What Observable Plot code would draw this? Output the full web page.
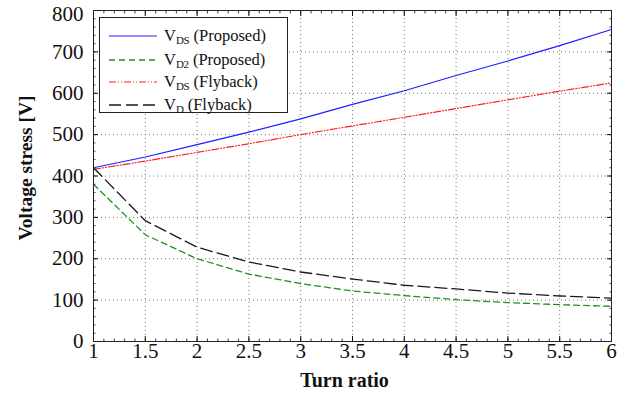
<!DOCTYPE html>
<html>
<head>
<meta charset="utf-8">
<script src="https://cdn.jsdelivr.net/npm/d3@7"></script>
<script src="https://cdn.jsdelivr.net/npm/@observablehq/plot@0.6"></script>
<style>
  html, body { margin: 0; padding: 0; background: #fff; }
  #wrap { position: relative; width: 624px; height: 396px; font-family: "Liberation Serif", "Times New Roman", serif; }
  #wrap svg text { font-family: "Liberation Serif", "Times New Roman", serif; }
  #legend { position: absolute; left: 99px; top: 17px; width: 189px; height: 96px; box-sizing: border-box;
    border: 1px solid #222; background: #fff; font-size: 16.5px; color: #111; font-family: "Liberation Serif", serif; }
  .row { position: absolute; left: 9px; height: 20px; display: flex; align-items: center; white-space: nowrap; }
  .row svg { width: 48px; height: 6px; margin-right: 7px; }
  .row span { font-family: "Liberation Serif", serif; }
  .row span sub { font-size: 11px; vertical-align: -3px; letter-spacing: -0.3px; }
</style>
</head>
<body>
<div id="wrap"></div>
<script>
const turnRatio   = [1, 1.5, 2, 2.5, 3, 3.5, 4, 4.5, 5, 5.5, 6];
const vdsProposed = [420, 446, 476, 506, 538, 573, 606, 643, 678, 715, 754];
const vd2Proposed = [380, 258, 200, 163, 140, 122, 111, 101, 94, 89, 85];
const vdsFlyback  = [416, 436, 457, 478, 500, 521, 542, 563, 584, 605, 625];
const vdFlyback   = [420, 292, 228, 192, 168, 151, 136, 127, 117, 110, 105];

const xTicks = [1, 1.5, 2, 2.5, 3, 3.5, 4, 4.5, 5, 5.5, 6];
const yTicks = [0, 100, 200, 300, 400, 500, 600, 700, 800];

const series = [
  {key: "vdsP", values: vdsProposed, color: "#1f1fff", dash: null, width: 1.2, sub: "DS", label: " (Proposed)"},
  {key: "vd2P", values: vd2Proposed, color: "#1f931f", dash: "6,4", width: 1.3, sub: "D2", label: " (Proposed)"},
  {key: "vdsF", values: vdsFlyback, color: "#ff1f1f", dash: "7,2,1,2,1,2", width: 1.2, sub: "DS", label: " (Flyback)"},
  {key: "vdF",  values: vdFlyback,  color: "#1a1a1a", dash: "12,5", width: 1.3, sub: "D", label: " (Flyback)"}
];

const tables = series.map(s => turnRatio.map((x, i) => ({x, y: s.values[i]})));

const minorX = d3.range(1, 6.0001, 0.1);
const minorY = d3.range(0, 800.0001, 20);

const gridStyle = {stroke: "#777", strokeOpacity: 1, strokeWidth: 1, strokeDasharray: "1,3"};
const serif = "Liberation Serif, serif";

const chart = Plot.plot({
  width: 624,
  height: 396,
  marginLeft: 93,
  marginRight: 13,
  marginTop: 10,
  marginBottom: 55,
  style: {fontFamily: serif, fontSize: "21px", color: "#111", background: "#fff"},
  x: {domain: [1, 6]},
  y: {domain: [0, 800]},
  marks: [
    Plot.gridX(xTicks.slice(1, -1), gridStyle),
    Plot.gridY(yTicks.slice(1, -1), gridStyle),
    ...series.map((s, i) => Plot.line(tables[i], {x: "x", y: "y", stroke: s.color, strokeWidth: s.width, strokeDasharray: s.dash})),
    // minor ticks (inward)
    Plot.axisX(minorX, {anchor: "bottom", tickSize: -2.5, text: null, label: null, stroke: "#444"}),
    Plot.axisX(minorX, {anchor: "top", tickSize: -2.5, text: null, label: null, stroke: "#444"}),
    Plot.axisY(minorY, {anchor: "left", tickSize: -2.5, text: null, label: null, stroke: "#444"}),
    Plot.axisY(minorY, {anchor: "right", tickSize: -2.5, text: null, label: null, stroke: "#444"}),
    // major ticks (inward)
    Plot.axisX(xTicks, {anchor: "bottom", tickSize: -5, text: null, label: null, stroke: "#111"}),
    Plot.axisX(xTicks, {anchor: "top", tickSize: -5, text: null, label: null, stroke: "#111"}),
    Plot.axisY(yTicks, {anchor: "left", tickSize: -5, text: null, label: null, stroke: "#111"}),
    Plot.axisY(yTicks, {anchor: "right", tickSize: -5, text: null, label: null, stroke: "#111"}),
    // tick labels
    Plot.axisX(xTicks, {anchor: "bottom", tickSize: 0, tickPadding: 2, label: null, fontSize: 21, fontFamily: serif, fill: "#111", tickFormat: d => String(d)}),
    Plot.axisY(yTicks.slice(0, -1), {anchor: "left", tickSize: 0, tickPadding: 10, label: null, fontSize: 21, fontFamily: serif, fill: "#111"}),
    Plot.axisY(yTicks.slice(-1), {anchor: "left", tickSize: 0, tickPadding: 10, label: null, fontSize: 21, fontFamily: serif, fill: "#111", dy: 4}),
    Plot.frame({stroke: "#222", strokeWidth: 1}),
    Plot.text(["Turn ratio"], {frameAnchor: "bottom", dy: 45, dx: -8, textAnchor: "middle", fontWeight: "bold", fontSize: 20, fontFamily: serif, fill: "#111"}),
    Plot.text(["Voltage stress [V]"], {frameAnchor: "left", dx: -68, dy: -8, textAnchor: "middle", lineAnchor: "middle", rotate: -90, fontWeight: "bold", fontSize: 19.5, fontFamily: serif, fill: "#111"})
  ]
});

const wrap = document.getElementById("wrap");
wrap.appendChild(chart);

const legend = document.createElement("div");
legend.id = "legend";
const rowTops = [8, 32, 54, 77];
series.forEach((s, i) => {
  const row = document.createElement("div");
  row.className = "row";
  row.style.top = rowTops[i] + "px";
  const dash = s.dash ? ` stroke-dasharray="${s.dash}"` : "";
  row.innerHTML = `<svg viewBox="0 0 48 6"><line x1="0" y1="3" x2="48" y2="3" stroke="${s.color}" stroke-width="${s.width}"${dash}/></svg><span>V<sub>${s.sub}</sub>${s.label}</span>`;
  legend.appendChild(row);
});
wrap.appendChild(legend);
</script>
</body>
</html>
